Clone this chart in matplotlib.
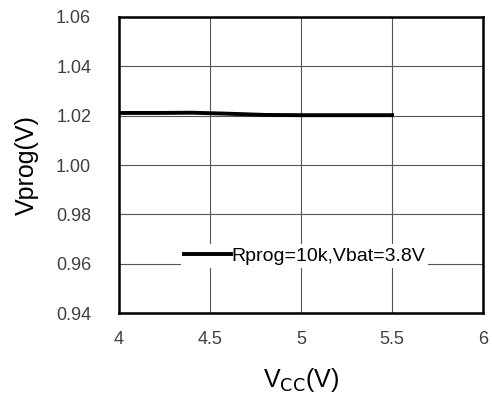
import numpy as np
import matplotlib.pyplot as plt

plt.rcParams['font.family'] = ['Liberation Sans', 'DejaVu Sans']

# -- Data --
vcc = [4.0, 4.2, 4.4, 4.6, 4.8, 5.0, 5.2, 5.5]
vprog = [1.0211, 1.0211, 1.0212, 1.0208, 1.0203, 1.0202, 1.0202, 1.0202]
series_label = 'Rprog=10k,Vbat=3.8V'
xticks = [4, 4.5, 5, 5.5, 6]
xtick_labels = ['4', '4.5', '5', '5.5', '6']
yticks = [0.94, 0.96, 0.98, 1.00, 1.02, 1.04, 1.06]

def main():
    fig = plt.figure(figsize=(4.92, 3.99), dpi=100)
    ax = fig.add_axes([0.2419, 0.2155, 0.7398, 0.7419])

    ax.plot(vcc, vprog, '-', color='black', lw=2.8, label=series_label, zorder=3)

    ax.set_xlim(4, 6)
    ax.set_ylim(0.94, 1.06)
    ax.set_xticks(xticks)
    ax.set_xticklabels(xtick_labels)
    ax.set_yticks(yticks)
    ax.set_yticklabels(['%.2f' % v for v in yticks])
    ax.tick_params(length=0, labelsize=13, colors='#404040')
    ax.tick_params(axis='x', pad=13)
    ax.tick_params(axis='y', pad=20)
    ax.grid(True, color='#555555', lw=0.8)
    ax.set_axisbelow(True)
    for s in ax.spines.values():
        s.set_linewidth(1.8)
        s.set_color('black')

    ax.set_xlabel('V$_{\\mathrm{CC}}$(V)', fontsize=18, labelpad=13)
    ax.set_ylabel('Vprog(V)', fontsize=18, labelpad=12)

    leg = ax.legend(loc='center', bbox_to_anchor=(0.51, 0.193), fontsize=14,
                    handlelength=2.4, handletextpad=0.05, borderpad=0.15,
                    framealpha=1, fancybox=False, borderaxespad=0)
    leg.get_frame().set_edgecolor('none')

    fig.savefig('out.png', dpi=100)

if __name__ == "__main__":
    main()
